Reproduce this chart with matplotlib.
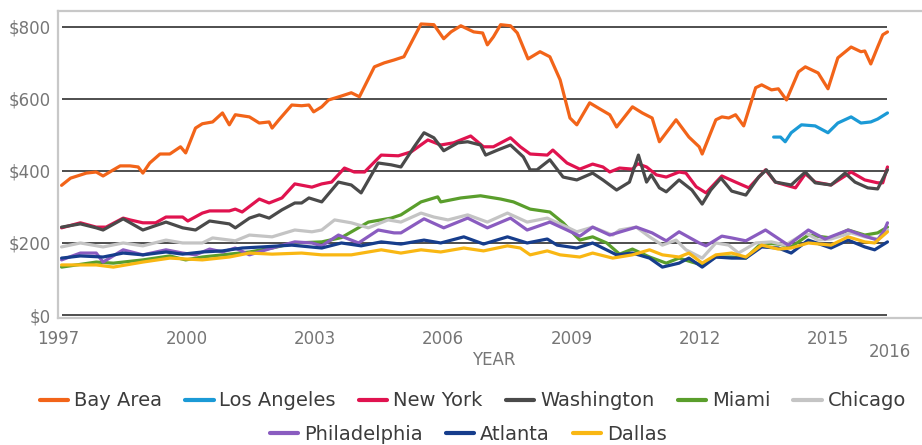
import matplotlib
matplotlib.use("Agg")
import matplotlib.pyplot as plt
import numpy as np

plt.rcParams['font.family'] = ['DejaVu Sans']

# Monthly-ish readings, years measured from the first data point (Feb 1997)
bay_x = [1997.0, 1997.21, 1997.58, 1997.81, 1997.97, 1998.21, 1998.37, 1998.6, 1998.79, 1998.9,
         1999.06, 1999.3, 1999.53, 1999.78, 1999.9, 2000.13, 2000.29, 2000.53, 2000.76, 2000.92,
         2001.06, 2001.39, 2001.62, 2001.85, 2001.92, 2002.08, 2002.38, 2002.61, 2002.78, 2002.89,
         2003.08, 2003.24, 2003.54, 2003.77, 2003.96, 2004.31, 2004.54, 2004.77, 2005.0, 2005.4,
         2005.7, 2005.93, 2006.1, 2006.33, 2006.63, 2006.84, 2006.95, 2007.09, 2007.26, 2007.49,
         2007.65, 2007.9, 2008.18, 2008.41, 2008.65, 2008.88, 2009.04, 2009.34, 2009.58, 2009.81,
         2009.97, 2010.34, 2010.57, 2010.8, 2010.97, 2011.36, 2011.66, 2011.9, 2011.97, 2012.29,
         2012.43, 2012.59, 2012.75, 2012.94, 2013.22, 2013.36, 2013.59, 2013.75, 2013.94, 2014.22,
         2014.38, 2014.68, 2014.91, 2015.14, 2015.45, 2015.68, 2015.77, 2015.91, 2016.07, 2016.19,
         2016.3]
bay_y = [360, 380, 394, 397, 386, 403, 414, 414, 411, 394,
         422, 447, 447, 467, 450, 519, 531, 536, 561, 528,
         556, 550, 533, 536, 519, 542, 583, 581, 583, 564,
         578, 597, 608, 617, 606, 689, 700, 708, 717, 808,
         806, 767, 786, 803, 786, 783, 750, 772, 806, 803,
         783, 711, 731, 717, 653, 547, 528, 589, 572, 556,
         522, 578, 561, 547, 481, 542, 494, 467, 447, 542,
         550, 547, 556, 525, 631, 639, 625, 628, 597, 675,
         689, 672, 628, 714, 744, 731, 733, 697, 744, 778,
         786]

la_x = [2013.64, 2013.8, 2013.91, 2014.05, 2014.29, 2014.61, 2014.91, 2015.14, 2015.45, 2015.68,
        2015.91, 2016.07, 2016.3]
la_y = [494, 494, 481, 506, 528, 525, 506, 533, 550, 533, 536, 544, 561]

ny_x = [1997.0, 1997.44, 1997.81, 1998.04, 1998.44, 1998.6, 1998.9, 1999.2, 1999.44, 1999.83,
        1999.95, 2000.29, 2000.46, 2000.92, 2001.06, 2001.22, 2001.62, 2001.85, 2002.15, 2002.45,
        2002.85, 2003.08, 2003.31, 2003.61, 2003.84, 2004.08, 2004.47, 2004.87, 2005.17, 2005.56,
        2005.86, 2006.16, 2006.56, 2006.86, 2007.09, 2007.49, 2007.72, 2007.95, 2008.35, 2008.48,
        2008.81, 2009.11, 2009.41, 2009.65, 2009.81, 2010.04, 2010.34, 2010.46, 2010.67, 2010.9,
        2011.13, 2011.43, 2011.59, 2011.83, 2012.06, 2012.43, 2012.75, 2013.06, 2013.45, 2013.68,
        2014.15, 2014.38, 2014.61, 2014.98, 2015.45, 2015.77, 2016.07, 2016.19, 2016.3]
ny_y = [242, 256, 244, 244, 269, 264, 256, 256, 272, 272,
        261, 283, 289, 289, 294, 286, 322, 311, 325, 364,
        355, 364, 369, 408, 397, 397, 444, 442, 453, 486,
        472, 478, 497, 467, 467, 492, 467, 447, 444, 458,
        422, 405, 419, 411, 397, 408, 405, 420, 411, 389,
        383, 397, 394, 356, 339, 386, 369, 353, 403, 369,
        353, 392, 369, 361, 397, 375, 367, 367, 411]

wa_x = [1997.0, 1997.44, 1997.81, 1997.97, 1998.44, 1998.9, 1999.44, 1999.83, 2000.13, 2000.46,
        2000.92, 2001.06, 2001.39, 2001.62, 2001.85, 2002.15, 2002.45, 2002.61, 2002.78, 2003.08,
        2003.47, 2003.77, 2004.0, 2004.4, 2004.7, 2004.93, 2005.24, 2005.47, 2005.7, 2005.93,
        2006.26, 2006.49, 2006.79, 2006.91, 2007.19, 2007.49, 2007.79, 2007.95, 2008.11, 2008.41,
        2008.72, 2009.04, 2009.41, 2009.65, 2009.97, 2010.27, 2010.48, 2010.67, 2010.78, 2010.97,
        2011.13, 2011.43, 2011.73, 2011.97, 2012.17, 2012.41, 2012.66, 2012.99, 2013.29, 2013.47,
        2013.68, 2014.05, 2014.38, 2014.61, 2014.98, 2015.31, 2015.54, 2015.84, 2016.07, 2016.3]
wa_y = [244, 253, 242, 236, 267, 236, 258, 242, 236, 261,
        253, 242, 269, 278, 269, 292, 311, 311, 325, 314,
        369, 361, 339, 422, 417, 411, 467, 506, 492, 456,
        478, 481, 472, 444, 458, 472, 439, 403, 403, 431,
        383, 375, 394, 375, 347, 369, 444, 369, 389, 353,
        342, 375, 347, 308, 347, 380, 344, 333, 383, 403,
        369, 361, 397, 367, 361, 394, 369, 353, 350, 403]

mi_x = [1997.0, 1997.81, 1998.21, 1998.9, 1999.53, 1999.9, 2000.29, 2000.92, 2001.39, 2001.92,
        2002.45, 2003.08, 2003.54, 2004.17, 2004.7, 2004.93, 2005.4, 2005.79, 2005.86, 2006.33,
        2006.79, 2007.26, 2007.56, 2007.95, 2008.41, 2008.72, 2009.11, 2009.41, 2009.74, 2010.04,
        2010.34, 2010.74, 2011.13, 2011.43, 2011.73, 2011.97, 2012.29, 2012.66, 2012.99, 2013.36,
        2013.75, 2014.05, 2014.45, 2014.98, 2015.38, 2015.77, 2016.07, 2016.3]
mi_y = [133, 147, 144, 153, 164, 153, 161, 169, 175, 186,
        200, 203, 215, 258, 269, 278, 314, 328, 314, 325,
        331, 322, 314, 294, 286, 256, 208, 217, 200, 169,
        183, 161, 144, 158, 147, 139, 161, 161, 158, 200,
        197, 189, 222, 214, 236, 222, 228, 244]

ch_x = [1997.0, 1997.44, 1997.97, 1998.44, 1998.9, 1999.44, 1999.83, 2000.29, 2000.53, 2001.06,
        2001.39, 2001.92, 2002.45, 2002.85, 2003.08, 2003.38, 2003.77, 2004.17, 2004.63, 2004.93,
        2005.4, 2005.7, 2006.03, 2006.49, 2006.95, 2007.42, 2007.88, 2008.35, 2008.81, 2009.04,
        2009.41, 2009.88, 2010.04, 2010.43, 2010.74, 2011.04, 2011.36, 2011.59, 2011.97, 2012.29,
        2012.59, 2012.82, 2013.22, 2013.59, 2013.91, 2014.38, 2014.68, 2014.98, 2015.45, 2015.77,
        2016.07, 2016.3]
ch_y = [189, 200, 189, 200, 192, 208, 200, 200, 214, 206,
        222, 217, 236, 231, 236, 264, 256, 242, 264, 258,
        283, 272, 264, 278, 258, 283, 258, 269, 244, 231,
        244, 222, 236, 244, 217, 194, 208, 181, 158, 200,
        194, 172, 200, 203, 194, 228, 208, 211, 228, 217,
        211, 236]

ph_x = [1997.0, 1997.44, 1997.81, 1997.97, 1998.44, 1998.9, 1999.44, 1999.83, 2000.13, 2000.46,
        2000.76, 2001.06, 2001.39, 2001.92, 2002.45, 2002.85, 2003.08, 2003.47, 2003.94, 2004.4,
        2004.77, 2004.93, 2005.47, 2005.93, 2006.49, 2006.95, 2007.49, 2007.88, 2008.41, 2008.81,
        2009.11, 2009.41, 2009.81, 2010.43, 2010.8, 2011.13, 2011.43, 2011.9, 2012.06, 2012.43,
        2012.66, 2012.99, 2013.45, 2013.98, 2014.45, 2014.84, 2015.38, 2015.77, 2016.07, 2016.23,
        2016.3]
ph_y = [153, 172, 172, 147, 181, 167, 181, 172, 167, 183,
        175, 186, 167, 186, 203, 200, 192, 222, 200, 236,
        228, 228, 267, 242, 269, 242, 269, 236, 258, 236,
        219, 244, 222, 244, 228, 206, 231, 200, 192, 219,
        214, 206, 236, 194, 236, 211, 236, 219, 208, 236,
        256]

at_x = [1997.0, 1997.44, 1997.97, 1998.44, 1998.9, 1999.44, 1999.83, 2000.29, 2000.76, 2001.22,
        2001.69, 2002.38, 2003.08, 2003.54, 2004.0, 2004.47, 2004.93, 2005.47, 2005.86, 2006.4,
        2006.86, 2007.42, 2007.88, 2008.35, 2008.58, 2009.04, 2009.41, 2009.97, 2010.34, 2010.74,
        2011.04, 2011.43, 2011.66, 2011.97, 2012.29, 2012.66, 2012.99, 2013.36, 2013.75, 2014.05,
        2014.45, 2014.98, 2015.38, 2015.77, 2016.0, 2016.3]
at_y = [158, 164, 161, 172, 167, 175, 169, 175, 178, 186,
        189, 194, 186, 200, 192, 203, 197, 208, 200, 217,
        197, 217, 200, 211, 194, 186, 200, 167, 172, 158,
        133, 144, 158, 133, 161, 158, 158, 189, 186, 172,
        208, 186, 208, 189, 181, 203]

da_x = [1997.0, 1997.81, 1998.21, 1998.9, 1999.53, 2000.29, 2000.92, 2001.39, 2001.92, 2002.61,
        2003.08, 2003.77, 2004.47, 2004.93, 2005.4, 2005.86, 2006.4, 2006.86, 2007.42, 2007.72,
        2007.95, 2008.35, 2008.65, 2009.11, 2009.41, 2009.88, 2010.34, 2010.74, 2011.04, 2011.43,
        2011.66, 2011.97, 2012.29, 2012.66, 2012.99, 2013.36, 2013.75, 2014.05, 2014.45, 2014.98,
        2015.38, 2015.77, 2016.0, 2016.3]
da_y = [139, 139, 133, 147, 158, 153, 161, 172, 169, 172,
        167, 167, 181, 172, 181, 175, 186, 178, 192, 186,
        167, 178, 167, 161, 172, 158, 167, 181, 167, 161,
        172, 144, 167, 172, 161, 194, 183, 186, 200, 194,
        217, 203, 200, 231]

names = ['Bay Area', 'Los Angeles', 'New York', 'Washington', 'Miami', 'Chicago',
         'Philadelphia', 'Atlanta', 'Dallas']
colors = ['#f26419', '#1b9ad6', '#e0134f', '#4a4a4a', '#5a9e2c', '#c4c4c4',
          '#8a5cc0', '#163d8c', '#f9b713']
series_x = [bay_x, la_x, ny_x, wa_x, mi_x, ch_x, ph_x, at_x, da_x]
series_y = [bay_y, la_y, ny_y, wa_y, mi_y, ch_y, ph_y, at_y, da_y]

x_ticks = [1997, 2000, 2003, 2006, 2009, 2012, 2015]
y_ticks = [0, 200, 400, 600, 800]
y_labels = ['$0', '$200', '$400', '$600', '$800']
shift = 1 / 12  # first reading is Feb 1997

fig = plt.figure(figsize=(9.22, 4.45), dpi=100)
ax = fig.add_axes([58 / 922, 127 / 445, 864 / 922, 307 / 445])

x_end = max(max(x) for x in series_x) + shift
ax.set_xlim(1997 + shift + 0.005, 2017.19)
ax.set_ylim(-8.3, 844)

ax.hlines(y_ticks, ax.get_xlim()[0], x_end, color='#1e1e1e', lw=1.1, zorder=1)

handles = []
for xs, ys, c, name in zip(series_x, series_y, colors, names):
    line, = ax.plot(np.array(xs) + shift, ys, color=c, lw=2.3, label=name,
                    solid_joinstyle='round', solid_capstyle='round', zorder=3)
    handles.append(line)

for side in ['top', 'left', 'bottom']:
    ax.spines[side].set_color('#c8c8c8')
    ax.spines[side].set_linewidth(1.6)
ax.spines['right'].set_visible(False)

ax.set_yticks(y_ticks)
ax.set_yticklabels(y_labels)
ax.set_xticks(x_ticks)
ax.set_xticklabels([str(t) for t in x_ticks])
ax.tick_params(axis='both', length=0, labelsize=12, labelcolor='#767676')
ax.tick_params(axis='x', pad=9)
ax.tick_params(axis='y', pad=5)

ax.annotate('2016', xy=(x_end, 0), xycoords=('data', 'axes fraction'),
            xytext=(2, -34), textcoords='offset pixels', ha='center', va='center',
            fontsize=12, color='#767676')

fig.text(494 / 922, 1 - 360 / 445, 'YEAR', ha='center', va='center',
         fontsize=12, color='#767676')

leg_kw = dict(loc='center', frameon=False, fontsize=14, handlelength=1.45,
              handletextpad=0.3, columnspacing=1.2, borderaxespad=0)
leg1 = fig.legend(handles[:6], names[:6], ncol=6, bbox_to_anchor=(0.513, 1 - 401 / 445), **leg_kw)
leg2 = fig.legend(handles[6:], names[6:], ncol=3, bbox_to_anchor=(0.508, 1 - 434 / 445), **leg_kw)
for leg in (leg1, leg2):
    for t in leg.get_texts():
        t.set_color('#3c3c3c')
    for h in leg.legend_handles:
        h.set_linewidth(3)

fig.savefig('out.png', dpi=100)
